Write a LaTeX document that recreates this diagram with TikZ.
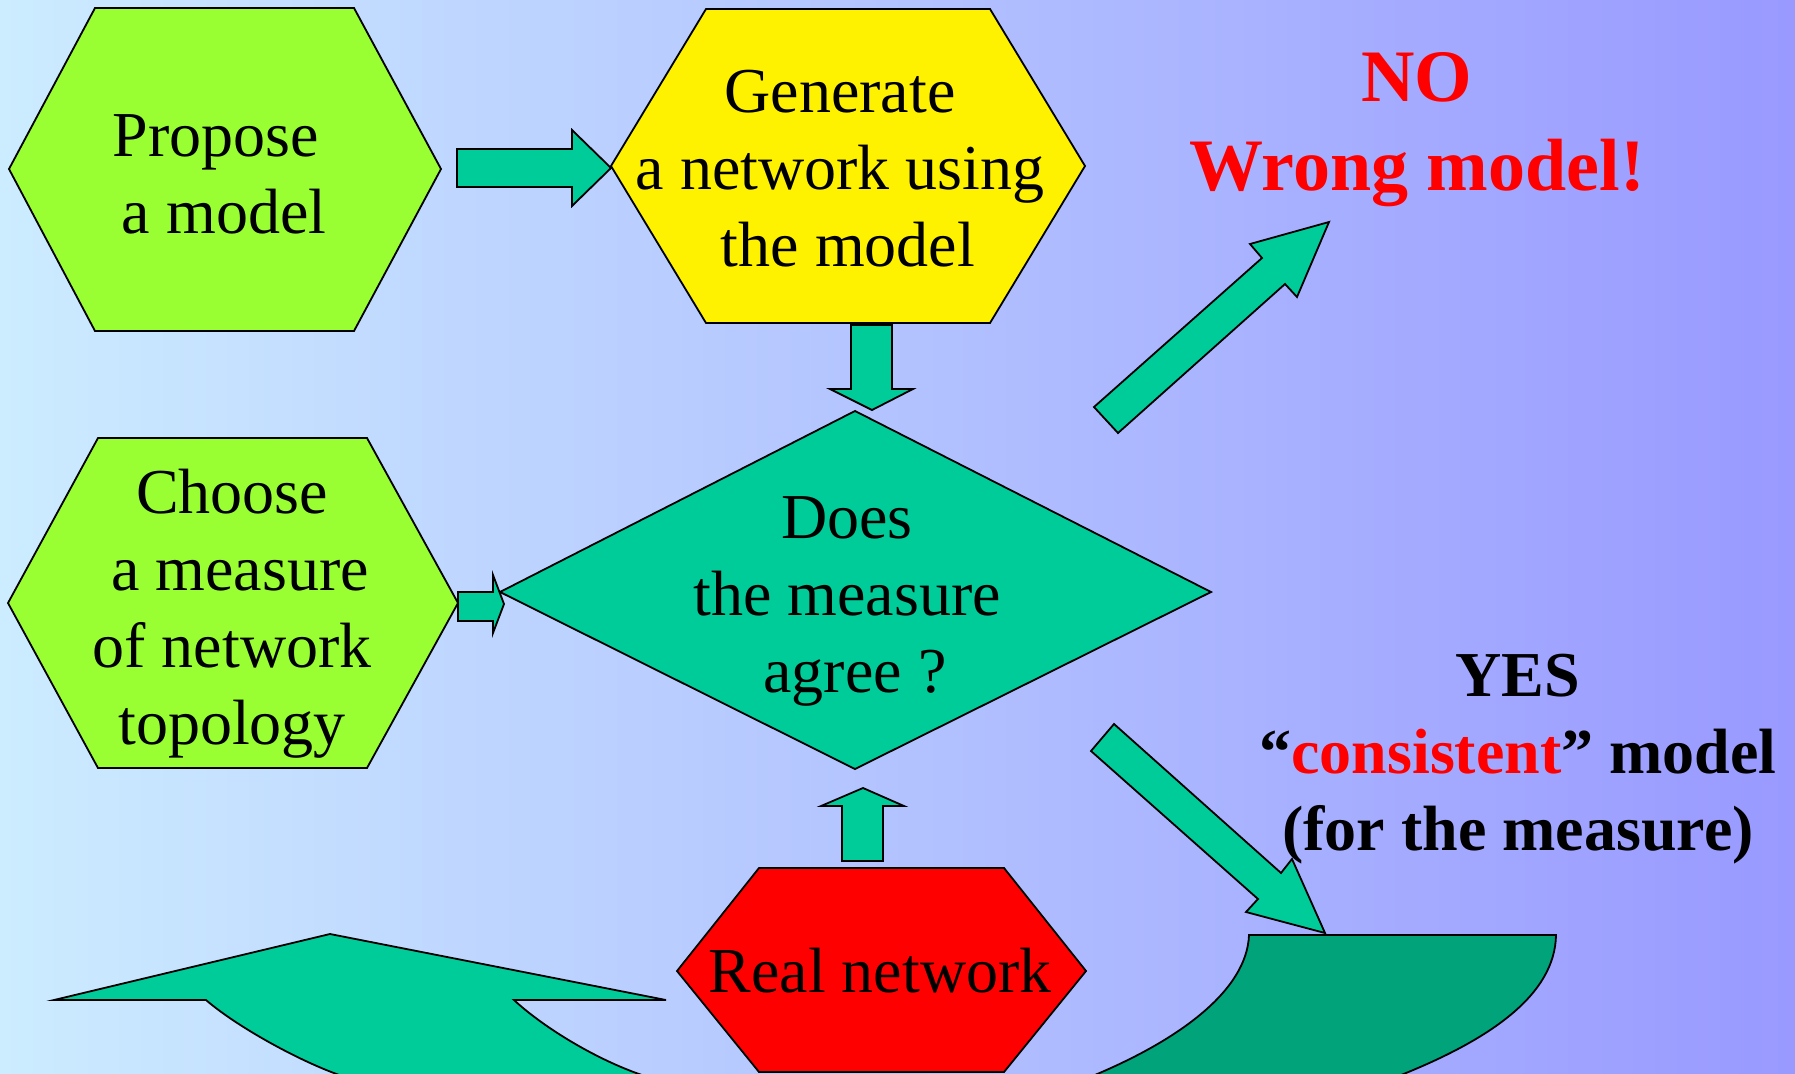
\documentclass[tikz,border=0pt]{standalone}
\usepackage{fontspec}
\setmainfont{Liberation Serif}
\definecolor{bgleft}{HTML}{CCECFF}
\definecolor{bgright}{HTML}{9999FF}
\definecolor{lime}{HTML}{99FF33}
\definecolor{sea}{HTML}{00CC99}
\definecolor{deepsea}{HTML}{00A37A}
\begin{document}
\begin{tikzpicture}[x=1pt,y=-1pt,
  outline/.style={draw=black, line width=1.8pt, line join=miter},
  blockarrow/.style={outline, fill=sea},
  txt/.style={align=center, inner sep=0pt, font=\fontsize{64}{77}\selectfont},
  answer/.style={align=center, inner sep=0pt, font=\bfseries\fontsize{64}{77}\selectfont}]

% page and background
\useasboundingbox (0,0) rectangle (1795,1073);
\clip (0,0) rectangle (1795,1073);
\shade[left color=bgleft, right color=bgright] (0,0) rectangle (1795,1073);

% process boxes
\draw[outline, fill=lime] (9,169) -- (95,8) -- (354,8) -- (441,169) -- (354,331) -- (95,331) -- cycle;
\draw[outline, fill=yellow] (611,166) -- (706,9) -- (990,9) -- (1085,166) -- (990,323) -- (706,323) -- cycle;
\draw[outline, fill=lime] (8,603) -- (98,438) -- (367,438) -- (458,603) -- (367,768) -- (98,768) -- cycle;
\draw[outline, fill=red] (677,971) -- (759,868) -- (1004,868) -- (1086,971) -- (1004,1072) -- (759,1072) -- cycle;

% decision
\draw[outline, fill=sea] (855,411) -- (1211,592) -- (855,769) -- (500,592) -- cycle;

% block arrows between the steps
\draw[blockarrow] (457,149) -- (572,149) -- (572,130) -- (611,168) -- (572,206) -- (572,187) -- (457,187) -- cycle;
\draw[blockarrow] (851,325) -- (892,325) -- (892,389) -- (913,389) -- (872,410) -- (830,389) -- (851,389) -- cycle;
\draw[blockarrow] (842,861) -- (842,806) -- (821,806) -- (863,788) -- (904,806) -- (883,806) -- (883,861) -- cycle;
\draw[blockarrow] (458,592) -- (493,592) -- (493,575) -- (504,604) -- (493,633) -- (493,621) -- (458,621) -- cycle;
\draw[blockarrow] (1094,407) -- (1262,258) -- (1250,244) -- (1329,222) -- (1297,297) -- (1285,284) -- (1118,433) -- cycle;

% curved arrows running off the bottom edge
\draw[blockarrow] (54,1000) -- (330,934) -- (666,1000) -- (514,1000)
  .. controls (544,1028) and (600,1062) .. (648,1077) -- (345,1077)
  .. controls (300,1062) and (236,1026) .. (206,1000) -- cycle;
\draw[outline, fill=deepsea] (1249,935) -- (1556,935)
  .. controls (1555,995) and (1490,1040) .. (1396,1077) -- (1090,1077)
  .. controls (1180,1040) and (1247,990) .. (1249,935) -- cycle;
\draw[blockarrow] (1114,724) -- (1281,873) -- (1292,859) -- (1325,933) -- (1246,912) -- (1258,899) -- (1091,751) -- cycle;

% texts
\node[txt] (propose) at (216,174) {Propose\\\hspace*{.25em}a model};
\node[txt] (generate) at (840,169) {Generate\\a network using\\\hspace*{.25em}the model};
\node[txt] (choose) at (232,614) {Choose\\\hspace*{.25em}a measure\\of network\\topology};
\node[txt] (does) at (847,601) {Does\\the measure\\\hspace*{.25em}agree ?};
\node[txt] (real) at (880,971) {Real network};
\node[answer, text=red, font=\bfseries\fontsize{74}{89}\selectfont] (no) at (1417,130) {NO\\Wrong model!};
\node[answer] (yes) at (1518,759) {YES\\“\textcolor{red}{consistent}” model\\(for the measure)};
\end{tikzpicture}
\end{document}
